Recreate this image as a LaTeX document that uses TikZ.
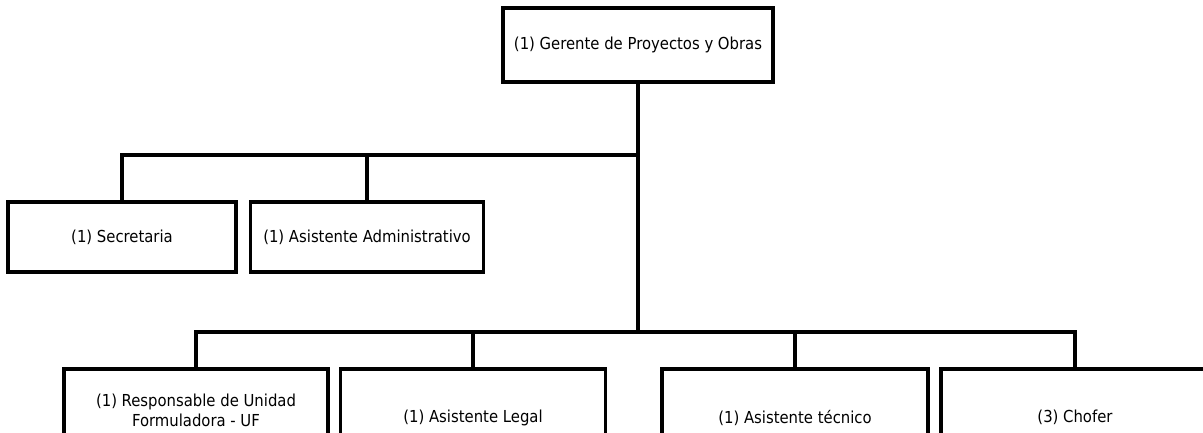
\documentclass[tikz,border=0pt]{standalone}
\usepackage{fontspec}
\setmainfont{DejaVu Sans Condensed}
\begin{document}
\begin{tikzpicture}[x=1pt,y=-1pt,
  box/.style={draw, line width=3.6pt, fill=white, inner sep=2pt,
    align=center, font=\fontsize{16.5}{20}\selectfont},
  link/.style={line width=3.6pt, line join=miter}]
\useasboundingbox[fill=white] (0,0) rectangle (1203,432);

% upper levels
\node[box, minimum width=270, minimum height=74] (ger) at (638,45) {(1) Gerente de Proyectos y Obras};
\node[box, minimum width=228, minimum height=70] (sec) at (122,237) {(1) Secretaria};
\node[box, minimum width=233, minimum height=70] (adm) at (367,237) {(1) Asistente Administrativo};

% lower level (runs past the page bottom)
\node[box, minimum width=264, minimum height=84, anchor=north] (ruf) at (196,367) {(1) Responsable de Unidad\\Formuladora - UF};
\node[box, minimum width=265, minimum height=98, anchor=north] (leg) at (473,367) {(1) Asistente Legal};
\node[box, minimum width=266, minimum height=98, anchor=north] (tec) at (795,367) {(1) Asistente técnico};
\node[box, minimum width=268, minimum height=98, anchor=north] (cho) at (1075,367) {(3) Chofer};

% junctions on the trunk
\coordinate (j1) at (638,155);
\coordinate (j2) at (638,332);

\draw[link] (ger.south) -- (j2);
\draw[link] (j1) -| (sec.north);
\draw[link] (j1) -| (adm.north);
\draw[link] (j2) -| (ruf.north);
\draw[link] (j2) -| (leg.north);
\draw[link] (j2) -| (tec.north);
\draw[link] (j2) -| (cho.north);
\end{tikzpicture}
\end{document}
